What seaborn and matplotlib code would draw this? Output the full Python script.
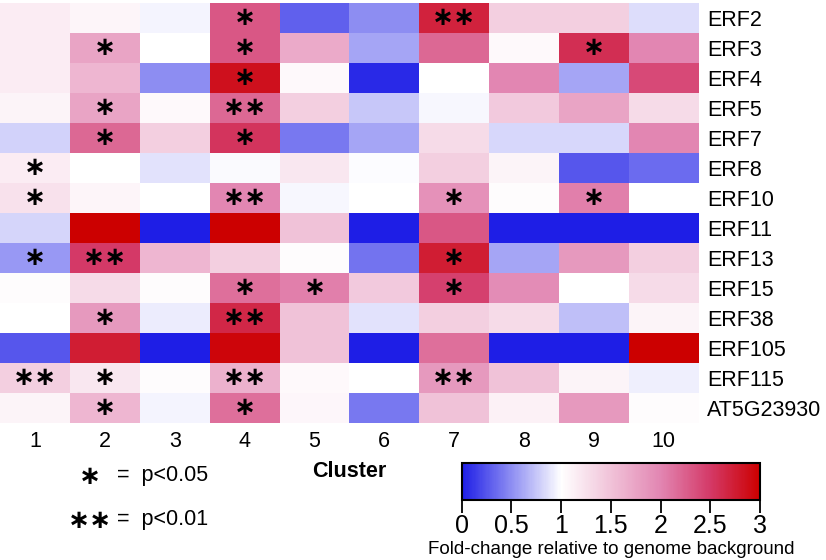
import numpy as np
import pandas as pd
import matplotlib
matplotlib.use("Agg")
import matplotlib.pyplot as plt
import seaborn as sns
from matplotlib.colors import LinearSegmentedColormap

genes = ["ERF2", "ERF3", "ERF4", "ERF5", "ERF7", "ERF8", "ERF10", "ERF11",
         "ERF13", "ERF15", "ERF38", "ERF105", "ERF115", "AT5G23930"]
clusters = ["1", "2", "3", "4", "5", "6", "7", "8", "9", "10"]

fold = [
    [1.15, 1.08, 0.95, 2.30, 0.30, 0.50, 2.70, 1.40, 1.40, 0.85],
    [1.15, 1.75, 1.00, 2.30, 1.70, 0.60, 2.20, 1.05, 2.60, 2.00],
    [1.15, 1.60, 0.50, 2.85, 1.05, 0.05, 1.00, 2.00, 0.60, 2.40],
    [1.10, 1.75, 1.05, 2.20, 1.40, 0.75, 0.97, 1.45, 1.75, 1.30],
    [0.80, 2.20, 1.40, 2.55, 0.40, 0.60, 1.30, 0.83, 0.83, 2.00],
    [1.15, 1.00, 0.87, 0.98, 1.20, 0.99, 1.40, 1.10, 0.25, 0.35],
    [1.25, 1.08, 1.00, 2.00, 0.97, 1.00, 1.90, 1.02, 2.05, 1.00],
    [0.82, 3.00, 0.00, 3.00, 1.50, 0.00, 2.30, 0.00, 0.00, 0.00],
    [0.55, 2.50, 1.60, 1.40, 1.02, 0.38, 2.75, 0.60, 1.85, 1.40],
    [1.02, 1.30, 1.03, 2.15, 2.05, 1.45, 2.45, 1.95, 1.00, 1.30],
    [1.00, 1.85, 0.92, 2.65, 1.50, 0.87, 1.40, 1.30, 0.72, 1.10],
    [0.25, 2.75, 0.00, 2.95, 1.50, 0.00, 2.15, 0.00, 0.00, 3.00],
    [1.40, 1.20, 1.02, 1.65, 1.05, 1.00, 1.85, 1.50, 1.10, 0.93],
    [1.10, 1.60, 0.96, 2.15, 1.07, 0.40, 1.50, 1.12, 1.85, 1.03],
]

# significance: 1 = p<0.05, 2 = p<0.01
sig = [
    [0, 0, 0, 1, 0, 0, 2, 0, 0, 0],
    [0, 1, 0, 1, 0, 0, 0, 0, 1, 0],
    [0, 0, 0, 1, 0, 0, 0, 0, 0, 0],
    [0, 1, 0, 2, 0, 0, 0, 0, 0, 0],
    [0, 1, 0, 1, 0, 0, 0, 0, 0, 0],
    [1, 0, 0, 0, 0, 0, 0, 0, 0, 0],
    [1, 0, 0, 2, 0, 0, 1, 0, 1, 0],
    [0, 0, 0, 0, 0, 0, 0, 0, 0, 0],
    [1, 2, 0, 0, 0, 0, 1, 0, 0, 0],
    [0, 0, 0, 1, 1, 0, 1, 0, 0, 0],
    [0, 1, 0, 2, 0, 0, 0, 0, 0, 0],
    [0, 0, 0, 0, 0, 0, 0, 0, 0, 0],
    [2, 1, 0, 2, 0, 0, 2, 0, 0, 0],
    [0, 1, 0, 1, 0, 0, 0, 0, 0, 0],
]

df = pd.DataFrame(fold, index=genes, columns=clusters)
star = "\u2217"
marks = pd.DataFrame(sig, index=genes, columns=clusters).replace({0: "", 1: star, 2: star + star})

cmap = LinearSegmentedColormap.from_list(
    "fc", [(0, "#1E1EE6"), (1 / 3, "#FFFFFF"), (2 / 3, "#E286B2"),
           (0.833, "#D43A68"), (1, "#CC0000")])

plt.rcParams["font.family"] = ["Liberation Sans", "DejaVu Sans"]

fig = plt.figure(figsize=(8.26, 5.6), dpi=100)
ax = fig.add_axes([0.0, 0.2446, 0.846, 0.75])
cax = fig.add_axes([0.559, 0.107, 0.361, 0.066])

star_kw = {"size": 19, "color": "black", "family": "DejaVu Sans", "weight": "bold"}
sns.heatmap(df, ax=ax, cmap=cmap, vmin=0, vmax=3, annot=marks, fmt="",
            annot_kws=star_kw,
            cbar_ax=cax, cbar_kws={"orientation": "horizontal", "ticks": np.arange(0, 3.01, 0.5)})

ax.yaxis.tick_right()
ax.set_yticklabels(genes, rotation=0, fontsize=15.5)
ax.set_xticklabels(clusters, rotation=0, fontsize=15.5)
ax.tick_params(length=0, pad=6)
ax.set_xlabel("Cluster", fontsize=15.5, fontweight="bold", labelpad=6)
ax.set_ylabel("")

cb = ax.collections[0].colorbar
cb.outline.set_visible(True)
cb.outline.set_edgecolor("black")
cb.outline.set_linewidth(1.5)
cax.set_xticklabels(["0", "0.5", "1", "1.5", "2", "2.5", "3"])
cax.tick_params(axis="x", length=9, width=1.3, labelsize=18, pad=1)
cax.set_xlabel("Fold-change relative to genome background", fontsize=13.5, labelpad=2)

fig.text(90 / 826, 1 - 477 / 560, star, ha="center", va="center", **{k: v for k, v in star_kw.items() if k != "size"}, fontsize=19)
fig.text(90 / 826, 1 - 521 / 560, star + star, ha="center", va="center", **{k: v for k, v in star_kw.items() if k != "size"}, fontsize=19)
fig.text(117 / 826, 1 - 475 / 560, "=  p<0.05", fontsize=15.5, ha="left", va="center")
fig.text(117 / 826, 1 - 520 / 560, "=  p<0.01", fontsize=15.5, ha="left", va="center")

fig.savefig("out.png", dpi=100)
